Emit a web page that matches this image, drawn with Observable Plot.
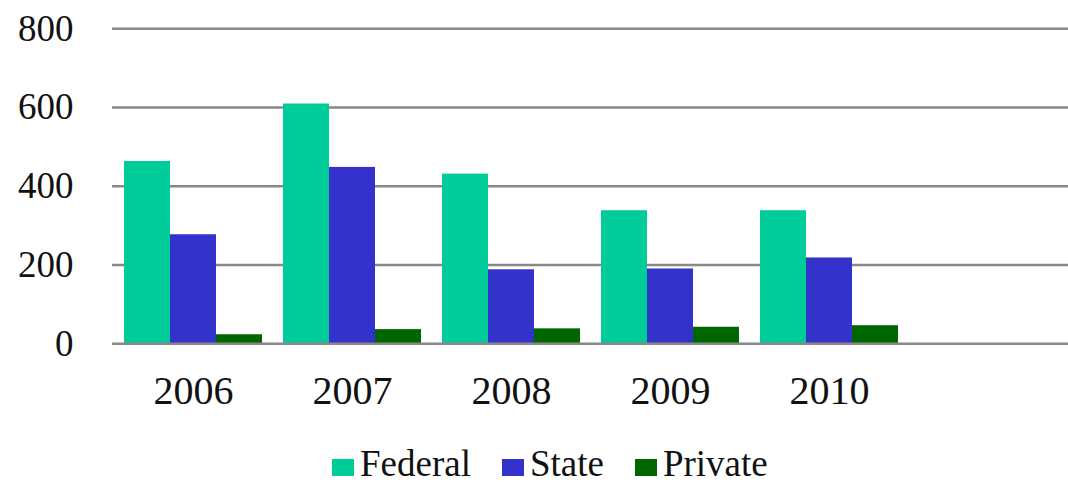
<!DOCTYPE html>
<html>
<head>
<meta charset="utf-8">
<script src="https://cdn.jsdelivr.net/npm/d3@7"></script>
<script src="https://cdn.jsdelivr.net/npm/@observablehq/plot@0.6"></script>
<style>
  html, body { margin: 0; padding: 0; background: #fff; }
  #chart { width: 1068px; }
  .legend { display: flex; align-items: center; margin-top: 15px; padding-left: 332px;
    font-family: "Liberation Serif", "Times New Roman", "DejaVu Serif", serif; font-size: 37px; line-height: 37px; color: #111; }
  .legend .item { display: flex; align-items: center; margin-right: 31px; }
  .legend .sw { width: 22px; height: 17px; margin-right: 6px; margin-top: 8px; }
</style>
</head>
<body>
<div id="chart"></div>
<script>
// Data
const years = ["2006", "2007", "2008", "2009", "2010"];
const seriesNames = ["Federal", "State", "Private"];
const federal = [463, 609, 431, 338, 338];
const state = [277, 448, 188, 190, 218];
const privateV = [23, 36, 38, 42, 46];
const yTicks = [0, 200, 400, 600, 800];

const seriesValues = [federal, state, privateV];
const colors = ["#00CC99", "#3333CC", "#006600"];

const W = 1068, H = 430;
const xDomain = [...years, " "];
const n = seriesNames.length;

const plot = Plot.plot({
  width: W,
  height: H,
  marginLeft: 112,
  marginRight: 0,
  marginTop: 28,
  marginBottom: 87,
  style: { fontFamily: "'Liberation Serif', 'Times New Roman', 'DejaVu Serif', serif", color: "#111", background: "#fff" },
  x: { type: "band", domain: xDomain, paddingInner: 0.134, paddingOuter: 0.067 },
  y: { domain: [0, 800], range: [343.3, 28.3] },
  marks: [
    Plot.ruleY(yTicks.filter(d => d > 0), { stroke: "#888", strokeWidth: 2.5 }),
    ...seriesNames.map((s, i) => {
      const data = years.map((yr, j) => ({ year: yr, value: seriesValues[i][j] }));
      const bw = 138, w = bw / n;
      return Plot.barY(data, {
        x: "year", y: "value", fill: colors[i],
        insetLeft: i * w, insetRight: (n - 1 - i) * w
      });
    }),
    Plot.ruleY([0], { stroke: "#888", strokeWidth: 2.5 }),
    Plot.axisY({ ticks: yTicks, tickSize: 0, tickPadding: 39, label: null, fontSize: 37, tickFormat: d => String(d) }),
    Plot.axisX({ tickSize: 0, tickPadding: 32, label: null, fontSize: 40, tickFormat: d => d.trim() })
  ]
});
document.getElementById("chart").appendChild(plot);

const legend = document.createElement("div");
legend.className = "legend";
seriesNames.forEach((s, i) => {
  const item = document.createElement("div");
  item.className = "item";
  const sw = document.createElement("span");
  sw.className = "sw";
  sw.style.background = colors[i];
  const t = document.createElement("span");
  t.textContent = s;
  item.appendChild(sw);
  item.appendChild(t);
  legend.appendChild(item);
});
document.getElementById("chart").appendChild(legend);
</script>
</body>
</html>
